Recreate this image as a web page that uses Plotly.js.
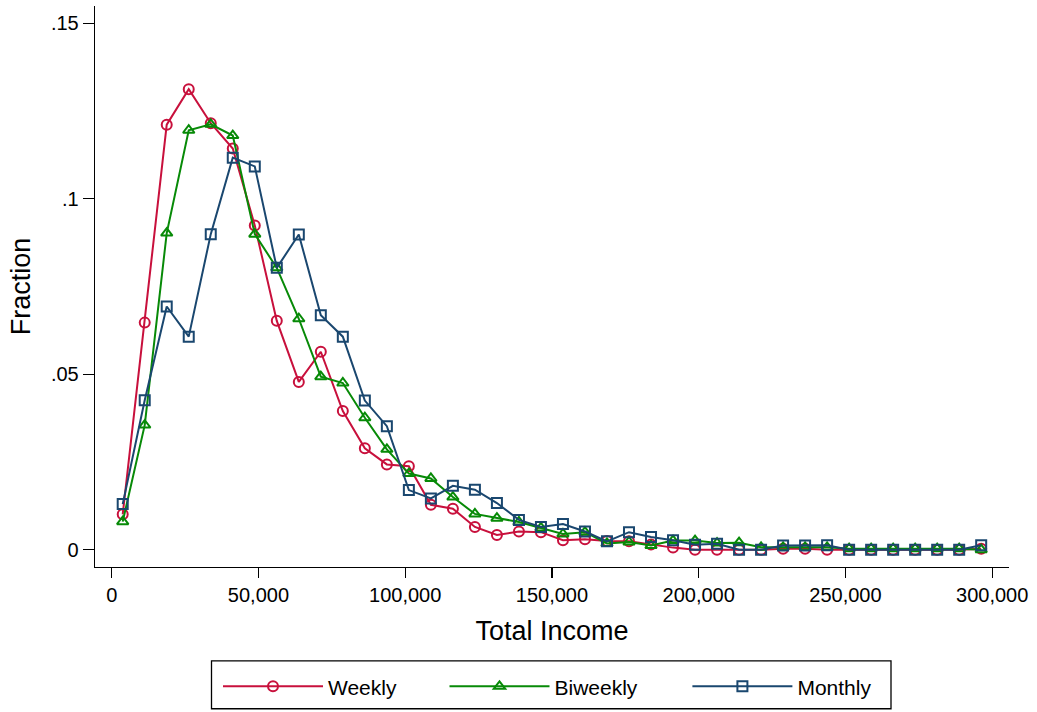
<!DOCTYPE html>
<html>
<head>
<meta charset="utf-8">
<script src="https://cdn.plot.ly/plotly-3.0.1.min.js"></script>
<style>
  html, body { margin: 0; padding: 0; background: #ffffff; }
  #chart { width: 1037px; height: 712px; }
</style>
</head>
<body>
<div id="chart"></div>
<script>
// Bin midpoints of Total Income
const incomeBins = [3750, 11250, 18750, 26250, 33750, 41250, 48750, 56250, 63750, 71250,
  78750, 86250, 93750, 101250, 108750, 116250, 123750, 131250, 138750, 146250,
  153750, 161250, 168750, 176250, 183750, 191250, 198750, 206250, 213750, 221250,
  228750, 236250, 243750, 251250, 258750, 266250, 273750, 281250, 288750, 296250];

const weekly = [0.0101, 0.0647, 0.1211, 0.1312, 0.1215, 0.1143, 0.0924, 0.0652, 0.0478, 0.0564,
  0.0395, 0.0289, 0.0243, 0.0238, 0.0128, 0.0117, 0.0065, 0.0042, 0.0052, 0.0050,
  0.0027, 0.0030, 0.0025, 0.0024, 0.0015, 0.0006, 0, 0, 0, 0,
  0.0003, 0.0003, 0, 0, 0, 0, 0, 0, 0, 0.0003];

const biweekly = [0.0080, 0.0355, 0.0902, 0.1195, 0.1212, 0.1180, 0.0899, 0.0803, 0.0658, 0.0493,
  0.0475, 0.0376, 0.0286, 0.0217, 0.0203, 0.0150, 0.0102, 0.0090, 0.0079, 0.0062,
  0.0045, 0.0050, 0.0018, 0.0022, 0.0012, 0.0026, 0.0026, 0.0019, 0.0020, 0.0007,
  0.0007, 0.0007, 0.0007, 0.0003, 0.0003, 0.0003, 0.0003, 0.0003, 0.0003, 0];

const monthly = [0.0130, 0.0426, 0.0693, 0.0607, 0.0899, 0.1117, 0.1092, 0.0803, 0.0898, 0.0668,
  0.0607, 0.0425, 0.0352, 0.0170, 0.0146, 0.0182, 0.0171, 0.0133, 0.0085, 0.0065,
  0.0073, 0.0052, 0.0024, 0.0050, 0.0036, 0.0027, 0.0014, 0.0017, 0, 0,
  0.0012, 0.0012, 0.0013, 0, 0, 0, 0, 0, 0, 0.0013];

const seriesNames = ['Weekly', 'Biweekly', 'Monthly'];
const yTickVals = [0, 0.05, 0.1, 0.15];
const yTickText = ['0', '.05', '.1', '.15'];
const xTickVals = [0, 50000, 100000, 150000, 200000, 250000, 300000];

const FONT = '"Liberation Sans", Arial, Helvetica, sans-serif';
const colors = ['#c8103c', '#078a07', '#1a476f'];
const symbols = ['circle-open', 'triangle-up-open', 'square-open'];
const sets = [weekly, biweekly, monthly];
const legendIds = ['legend', 'legend2', 'legend3'];

const traces = sets.map((ys, i) => ({
  type: 'scatter',
  mode: 'lines+markers',
  name: seriesNames[i],
  legend: legendIds[i],
  x: incomeBins,
  y: ys,
  line: { color: colors[i], width: 2 },
  marker: { symbol: symbols[i], size: 10, color: colors[i], line: { width: 2, color: colors[i] } },
  cliponaxis: false
}));

// plot area in pixels: left 95, right 1009, top 6, bottom 568
const PL = 95, PW = 914, PB = 568, PH = 562;
const px2x = p => (p - PL) / PW;
const px2y = p => (PB - p) / PH;

function makeLegend(lineStartPx) {
  return {
    orientation: 'h',
    x: px2x(lineStartPx - 5),
    xanchor: 'left',
    y: px2y(686.7),
    yanchor: 'middle',
    borderwidth: 0,
    bgcolor: 'rgba(0,0,0,0)',
    itemwidth: 100,
    font: { family: FONT, size: 21, color: '#000' }
  };
}

const layout = {
  width: 1037,
  height: 712,
  paper_bgcolor: '#ffffff',
  plot_bgcolor: '#ffffff',
  font: { family: FONT, color: '#000000', size: 20 },
  margin: { l: 95, r: 28, t: 6, b: 144, pad: 0 },
  showlegend: true,
  xaxis: {
    range: [-5690, 305724],
    tickvals: xTickVals,
    tickformat: ',d',
    ticks: 'outside',
    ticklen: 10,
    tickwidth: 1.3,
    tickcolor: '#000',
    showline: true,
    linecolor: '#000',
    linewidth: 1.3,
    showgrid: false,
    zeroline: false,
    tickfont: { family: FONT, size: 20, color: '#000' },
    title: { text: 'Total Income', font: { family: FONT, size: 27, color: '#000' }, standoff: 15 }
  },
  yaxis: {
    range: [-0.00492, 0.1549],
    tickvals: yTickVals,
    ticktext: yTickText,
    ticks: 'outside',
    ticklen: 11,
    tickwidth: 1.3,
    tickcolor: '#000',
    showline: true,
    linecolor: '#000',
    linewidth: 1.3,
    showgrid: false,
    zeroline: false,
    tickfont: { family: FONT, size: 20, color: '#000' },
    title: { text: 'Fraction', font: { family: FONT, size: 27, color: '#000' }, standoff: 12 }
  },
  legend: makeLegend(223),
  legend2: makeLegend(449.5),
  legend3: makeLegend(692.4),
  shapes: [{
    type: 'rect', xref: 'paper', yref: 'paper',
    x0: px2x(211.5), x1: px2x(891), y0: px2y(710), y1: px2y(662),
    line: { color: '#000', width: 1.3 }, fillcolor: 'rgba(0,0,0,0)', layer: 'above'
  }]
};

Plotly.newPlot('chart', traces, layout, { displayModeBar: false, staticPlot: true });
</script>
</body>
</html>
